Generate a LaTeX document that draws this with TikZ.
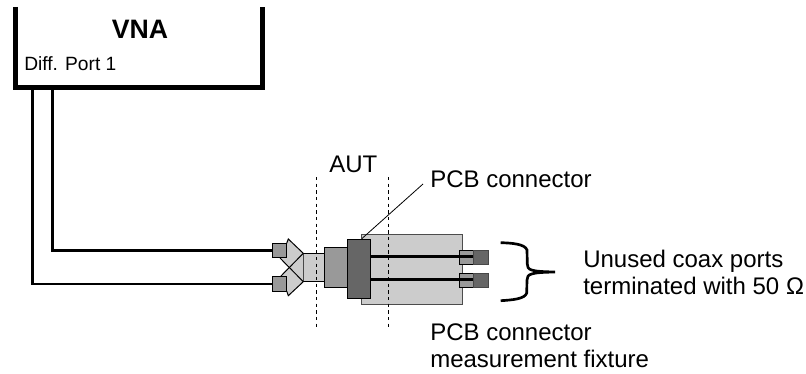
\documentclass[tikz,border=0pt]{standalone}
\usepackage{fontspec}
\setmainfont{Liberation Sans}
\definecolor{lg}{gray}{0.8}
\definecolor{mg}{gray}{0.6}
\definecolor{dg}{gray}{0.4}
\tikzset{x=0.75pt,y=-0.75pt,
 wire/.style={line width=2pt,draw=black},
 thinline/.style={line width=0.75pt,draw=black},
 part/.style={thinline,inner sep=0pt,outer sep=0pt},
 guide/.style={line width=0.6pt,dash pattern=on 2.5pt off 2.5pt},
 lab/.style={inner sep=0pt,anchor=base west,font=\fontsize{18pt}{20pt}\selectfont,align=left}}
\begin{document}
\begin{tikzpicture}
\useasboundingbox (0,0) rectangle (806,374);
% VNA
\draw[line width=3.75pt,line join=miter] (15.7,7) -- (15.7,87.5) -- (262.7,87.5) -- (262.7,7);
\node[inner sep=0pt,anchor=base,font=\bfseries\fontsize{20pt}{22pt}\selectfont] (vna) at (140,39) {VNA};
\node[inner sep=0pt,anchor=base west,font=\fontsize{14.4pt}{16pt}\selectfont] (dp) at (24,70.7) {Diff. Port 1};
\coordinate (w1) at (52.7,89);
\coordinate (w2) at (32.3,89);
% fixture
\node[part,fill=lg,draw=black!70,minimum width=75.45pt,minimum height=52.3pt] (fix) at (412,269.2) {};
\node[part,fill=lg,minimum width=15.2pt,minimum height=21pt] (autbox) at (313.9,267.5) {};
\node[part,fill=mg,minimum width=17.25pt,minimum height=30pt] (mid) at (335.5,267.3) {};
\node[part,fill=dg,minimum width=17.5pt,minimum height=44.25pt] (pcb) at (358.7,268.8) {};
% splitter
\fill[lg] (286.7,243.3) -- (288.3,239) -- (303.3,253.3) -- (303.3,281.7) -- (288.3,295.7) -- (286.7,291) -- (280,277) -- (291,267.3) -- (280,258) -- cycle;
\draw[thinline] (286.7,243.3) -- (288.3,239) -- (303.3,253.3) -- (280,277);
\draw[thinline] (286.7,291) -- (288.3,295.7) -- (303.3,281.7) -- (280,258);
% end ports
\node[part,fill=mg,minimum width=10.8pt,minimum height=10.8pt] (p1) at (279.5,250.5) {};
\node[part,fill=mg,minimum width=10.8pt,minimum height=10.8pt] (p2) at (279.5,283.9) {};
\node[part,fill=mg,minimum width=10.5pt,minimum height=10.5pt] (a1) at (466.3,257.7) {};
\node[part,fill=mg,minimum width=10.5pt,minimum height=10.5pt] (a2) at (466.3,280) {};
\node[part,fill=dg,draw=dg!70!black,minimum width=11.25pt,minimum height=10.5pt] (b1) at (480.8,257.7) {};
\node[part,fill=dg,draw=dg!70!black,minimum width=11.25pt,minimum height=10.5pt] (b2) at (480.8,280) {};
% wires
\draw[wire] (w1) |- (p1.west);
\draw[wire] (w2) |- (p2.west);
\draw[line width=2.25pt] (pcb.east |- 0,256.3) -- (a1.east |- 0,256.3);
\draw[line width=1.8pt] (pcb.east |- 0,279.3) -- (a2.east |- 0,279.3);
% guides
\coordinate (g1t) at (316,177); \coordinate (g1b) at (316,326.7);
\coordinate (g2t) at (388.3,177); \coordinate (g2b) at (388.3,326.7);
\draw[guide] (g1t) -- (g1b);
\draw[guide] (g2t) -- (g2b);
% brace
\draw[line width=2pt] (500.7,242.7) .. controls (512,243) and (525,244) .. (527,250) -- (527.3,264) .. controls (527.3,270) and (530,271.5) .. (555,272) .. controls (530,272.5) and (527.3,274) .. (527,280) -- (526.7,293) .. controls (525,299) and (512,300) .. (500.7,300.7);
% labels
\node[lab] (autl) at (329,172) {AUT};
\node[lab] (pcbl) at (430,187) {PCB connector};
\coordinate (ld) at (423,184);
\draw[line width=0.6pt] (ld) -- (362,238.5);
\node[lab] (un) at (583,267) {Unused coax ports};
\node[lab] (te) at (583,294) {terminated with 50 Ω};
\node[lab] (m1) at (430,340) {PCB connector};
\node[lab] (m2) at (430,367) {measurement fixture};
\end{tikzpicture}
\end{document}
